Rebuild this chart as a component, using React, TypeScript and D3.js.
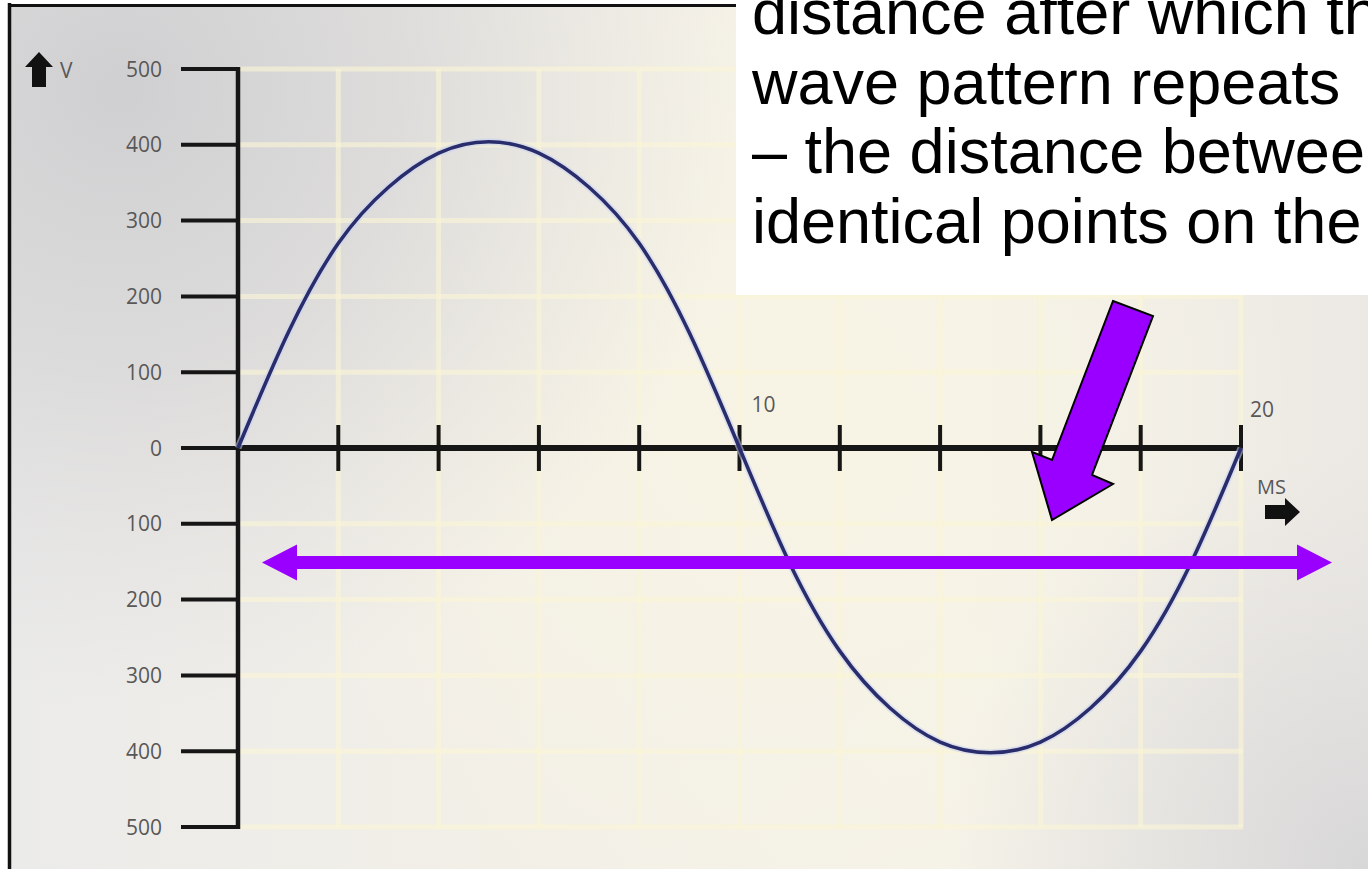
import React from "react";
import * as d3 from "d3";

const W = 1368;
const H = 869;

// Voltage ticks (signed) and the time ticks along the zero line
const voltTicks = [500, 400, 300, 200, 100, 0, -100, -200, -300, -400, -500];
const timeTicks = [2, 4, 6, 8, 10, 12, 14, 16, 18, 20];
const timeLabels = [10, 20];

// One full cycle of the alternating voltage (ms, V)
const waveTime = [0, 1, 2, 3, 4, 5, 6, 7, 8, 9, 10, 11, 12, 13, 14, 15, 16, 17, 18, 19, 20];
const waveVolts = [0, 152, 270, 344, 389, 404, 389, 344, 270, 152, 0, -152, -268, -343, -388, -402, -388, -343, -268, -152, 0];

const noteLines = [
  "distance after which the",
  "wave pattern repeats",
  "\u2013 the distance between",
  "identical points on the",
];

const PURPLE = "#9900ff";

export default function App() {
  const x = d3.scaleLinear().domain([0, 20]).range([238, 1241]);
  const y = d3.scaleLinear().domain([-500, 500]).range([827, 69]);

  const points: [number, number][] = waveTime.map((t, i) => [t, waveVolts[i]]);
  const line = d3
    .line<[number, number]>()
    .x((d) => x(d[0]))
    .y((d) => y(d[1]))
    .curve(d3.curveNatural);
  const wavePath = line(points) || "";

  const x0 = x(0);
  const x1 = x(20);
  const yTop = y(500);
  const yBot = y(-500);
  const yZero = y(0);

  // purple pointer arrow, outlined
  const pointer = [
    [1113, 301],
    [1153, 316],
    [1092, 475],
    [1113, 484],
    [1052, 520],
    [1032, 452],
    [1052, 460],
  ];

  // double-headed period arrow
  const ay = 562.5;
  const span = { left: 262, right: 1332, head: 35, half: 18, shaft: 6.5 };
  const dbl = [
    [span.left, ay],
    [span.left + span.head, ay - span.half],
    [span.left + span.head, ay - span.shaft],
    [span.right - span.head, ay - span.shaft],
    [span.right - span.head, ay - span.half],
    [span.right, ay],
    [span.right - span.head, ay + span.half],
    [span.right - span.head, ay + span.shaft],
    [span.left + span.head, ay + span.shaft],
    [span.left + span.head, ay + span.half],
  ];

  const poly = (pts: number[][]) => pts.map((p) => p.join(",")).join(" ");

  return (
    <svg
      width={W}
      height={H}
      viewBox={`0 0 ${W} ${H}`}
      style={{ position: "fixed", left: 0, top: 0, display: "block" }}
    >
      <defs>
        <linearGradient id="bgBase" x1="0" y1="0" x2="1" y2="0">
          <stop offset="0" stopColor="#ebebea" />
          <stop offset="0.35" stopColor="#f2efe7" />
          <stop offset="0.7" stopColor="#f5f2e8" />
          <stop offset="1" stopColor="#ece9e4" />
        </linearGradient>
        <radialGradient id="grayTL" cx="120" cy="90" r="620" gradientUnits="userSpaceOnUse">
          <stop offset="0" stopColor="#cfcfd1" stopOpacity="1" />
          <stop offset="0.45" stopColor="#d6d5d6" stopOpacity="0.72" />
          <stop offset="1" stopColor="#dcdbdb" stopOpacity="0" />
        </radialGradient>
        <radialGradient id="grayBR" cx="1368" cy="869" r="420" gradientUnits="userSpaceOnUse">
          <stop offset="0" stopColor="#d8d7d8" stopOpacity="1" />
          <stop offset="1" stopColor="#dedddd" stopOpacity="0" />
        </radialGradient>
        <radialGradient id="warm" cx="780" cy="420" r="520" gradientUnits="userSpaceOnUse">
          <stop offset="0" stopColor="#f8f4e4" stopOpacity="0.9" />
          <stop offset="1" stopColor="#f8f4e4" stopOpacity="0" />
        </radialGradient>
      </defs>

      <rect x={0} y={0} width={W} height={H} fill="#ffffff" />
      <rect x={10} y={6} width={W - 10} height={H - 6} fill="url(#bgBase)" />
      <rect x={10} y={6} width={W - 10} height={H - 6} fill="url(#warm)" />
      <rect x={10} y={6} width={W - 10} height={H - 6} fill="url(#grayTL)" />
      <rect x={10} y={6} width={W - 10} height={H - 6} fill="url(#grayBR)" />

      {/* frame edges */}
      <line x1={9.5} y1={3} x2={9.5} y2={H} stroke="#111" strokeWidth={3.5} />
      <line x1={8} y1={5.5} x2={740} y2={5.5} stroke="#111" strokeWidth={3} />

      {/* grid */}
      <g stroke="#faf5d6" strokeWidth={5} strokeOpacity={0.6}>
        {voltTicks.map((v) => (
          <line key={`h${v}`} x1={x0} x2={x1 + 2} y1={y(v)} y2={y(v)} />
        ))}
        {timeTicks.map((t) => (
          <line key={`v${t}`} x1={x(t)} x2={x(t)} y1={yTop} y2={yBot} />
        ))}
      </g>

      {/* voltage axis */}
      <g stroke="#161616" strokeWidth={4.5} fill="none">
        <line x1={x0} x2={x0} y1={yTop - 2} y2={yBot + 2} />
        {voltTicks.map((v) => (
          <line key={`vt${v}`} x1={181} x2={x0} y1={y(v)} y2={y(v)} strokeWidth={4} />
        ))}
      </g>
      <g fontFamily="'Open Sans', 'DejaVu Sans', sans-serif" fontSize={21} fill="#585858" textAnchor="end">
        {voltTicks.map((v) => (
          <text key={`vl${v}`} x={162} y={y(v)} dy="0.36em">
            {Math.abs(v)}
          </text>
        ))}
      </g>
      <polygon points="39,52 53,67 46,67 46,87 32,87 32,67 25,67" fill="#111" />
      <text x={60} y={78} fontFamily="'Open Sans', sans-serif" fontSize={21} fill="#585858">
        V
      </text>

      {/* time axis */}
      <g stroke="#161616" fill="none">
        <line x1={x0} x2={x1} y1={yZero} y2={yZero} strokeWidth={6} />
        {timeTicks.map((t) => (
          <line key={`tt${t}`} x1={x(t)} x2={x(t)} y1={yZero - 23} y2={yZero + 23} strokeWidth={4} />
        ))}
      </g>
      <g fontFamily="'Open Sans', 'DejaVu Sans', sans-serif" fontSize={21} fill="#585858">
        {timeLabels.map((t) => (
          <text key={`tl${t}`} x={x(t) + (t === 20 ? 9 : 12)} y={t === 20 ? 417 : 412}>
            {t}
          </text>
        ))}
        <text x={1257} y={494} fontSize={20}>
          MS
        </text>
      </g>
      <polygon points="1265,505 1285,505 1285,498 1300,512 1285,526 1285,519 1265,519" fill="#111" />

      {/* voltage wave */}
      <path d={wavePath} fill="none" stroke="#c9d2f2" strokeWidth={7} strokeOpacity={0.55} />
      <path d={wavePath} fill="none" stroke="#2a2d6c" strokeWidth={3.6} />

      {/* wavelength annotation */}
      <polygon points={poly(dbl)} fill={PURPLE} />

      <rect x={736} y={0} width={W - 736} height={295} fill="#ffffff" />
      <g fontFamily="'Liberation Sans', Arial, sans-serif" fontSize={63} fill="#000">
        {noteLines.map((s, i) => (
          <text key={i} x={752} y={34 + i * 69.7}>
            {s}
          </text>
        ))}
      </g>

      <polygon points={poly(pointer)} fill={PURPLE} stroke="#000" strokeWidth={2} strokeLinejoin="miter" />
    </svg>
  );
}
